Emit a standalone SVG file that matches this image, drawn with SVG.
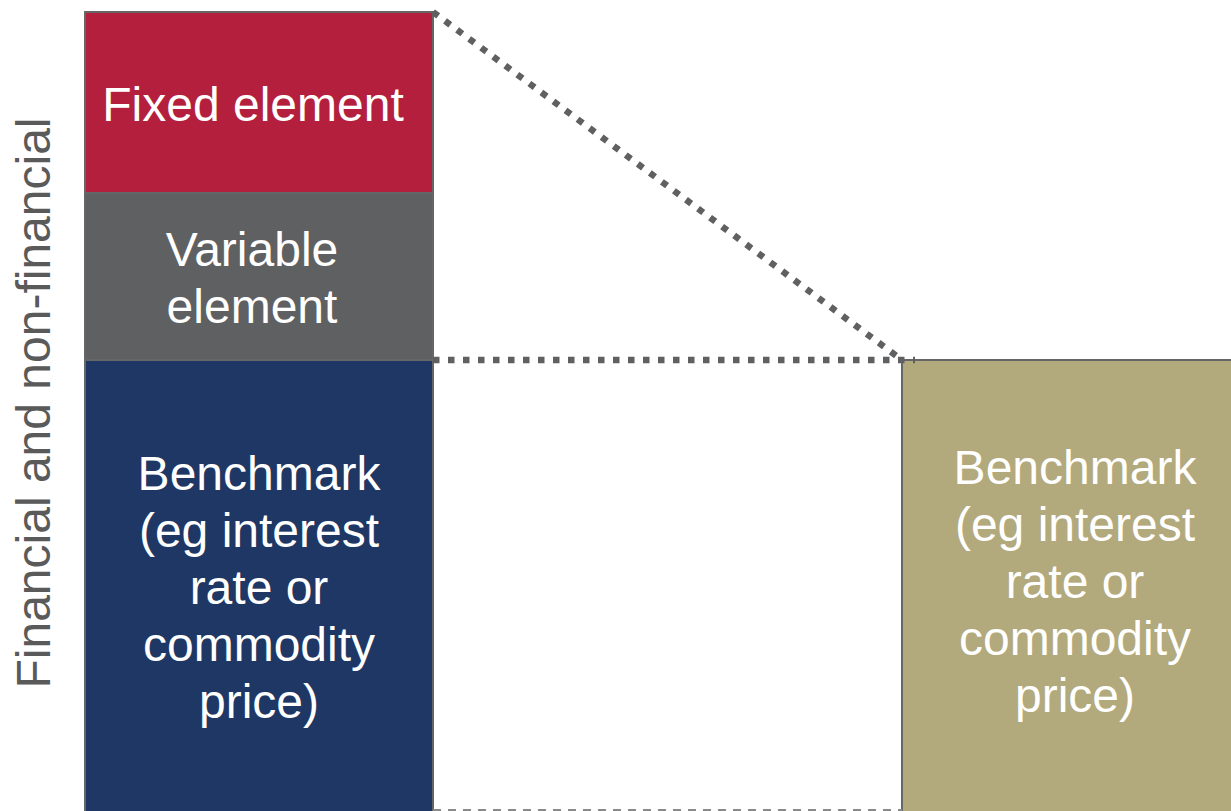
<svg xmlns="http://www.w3.org/2000/svg" width="1231" height="811" viewBox="0 0 1231 811">
  <style>
    .lbl { font-family: "Liberation Sans", Arial, sans-serif; font-size: 48px; fill: #ffffff; text-anchor: middle; }
    .axis { font-family: "Liberation Sans", Arial, sans-serif; font-size: 48px; fill: #5a5a5a; text-anchor: middle; }
    .box { stroke: #666666; stroke-width: 2; }
    .dots { fill: none; stroke: #5f6062; stroke-width: 6.5; stroke-dasharray: 6.5 8.5; }
    .dash { fill: none; stroke: #8a8a8a; stroke-width: 2; stroke-dasharray: 8 7; }
  </style>
  <rect width="1231" height="811" fill="#ffffff"/>

  <!-- axis caption -->
  <text class="axis" transform="translate(50,403) rotate(-90)">Financial and non-financial</text>

  <!-- stacked price components -->
  <g id="fixed-element">
    <rect class="box" x="85" y="12" width="348" height="181" fill="#b31f3c"/>
    <text class="lbl" x="253" y="121">Fixed element</text>
  </g>
  <g id="variable-element">
    <rect class="box" x="85" y="193" width="348" height="167" fill="#5f6062"/>
    <text class="lbl" x="252" y="266">Variable</text>
    <text class="lbl" x="252" y="323">element</text>
  </g>
  <g id="benchmark-left">
    <rect class="box" x="85" y="360" width="348" height="460" fill="#1f3764"/>
    <text class="lbl" x="259" y="490">Benchmark</text>
    <text class="lbl" x="259" y="547">(eg interest</text>
    <text class="lbl" x="259" y="604">rate or</text>
    <text class="lbl" x="259" y="661">commodity</text>
    <text class="lbl" x="259" y="718">price)</text>
  </g>

  <!-- hedged benchmark component -->
  <g id="benchmark-right">
    <rect class="box" x="902" y="360" width="340" height="460" fill="#b2a97c"/>
    <text class="lbl" x="1075" y="484">Benchmark</text>
    <text class="lbl" x="1075" y="541">(eg interest</text>
    <text class="lbl" x="1075" y="598">rate or</text>
    <text class="lbl" x="1075" y="655">commodity</text>
    <text class="lbl" x="1075" y="712">price)</text>
  </g>

  <!-- connectors -->
  <g id="connectors">
    <path class="dots" d="M433,12 L902,360"/>
    <path class="dots" d="M433,360 L915,360"/>
    <path class="dash" d="M433,810 L902,810"/>
  </g>
</svg>
